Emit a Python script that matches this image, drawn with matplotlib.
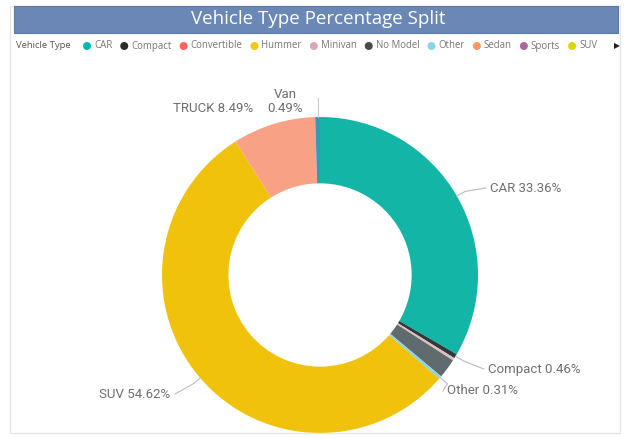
import matplotlib
matplotlib.use("Agg")
import matplotlib.pyplot as plt
from matplotlib.patches import Rectangle
import numpy as np

# ---- data ----
slice_names = ["CAR", "Compact", "Minivan", "No Model", "Other", "SUV", "TRUCK", "Van"]
slice_values = [33.36, 0.46, 0.27, 2.00, 0.31, 54.62, 8.49, 0.49]
slice_colors = ["#12B5A6", "#2F3A3C", "#DFBFBF", "#5F6B6D", "#8AD4EB", "#F0C20C", "#F9A185", "#3599B8"]
labeled = {"CAR": "CAR 33.36%", "Compact": "Compact 0.46%", "Other": "Other 0.31%",
           "SUV": "SUV 54.62%", "TRUCK": "TRUCK 8.49%", "Van": "Van\n0.49%"}

legend_names = ["CAR", "Compact", "Convertible", "Hummer", "Minivan", "No Model",
                "Other", "Sedan", "Sports", "SUV"]
legend_colors = ["#01B8AA", "#2B2B2B", "#FD625E", "#F2C80F", "#D9A8B8", "#4A4A4A",
                 "#8AD4EB", "#FE9666", "#A66999", "#D9D30B"]

title = "Vehicle Type Percentage Split"
legend_title = "Vehicle Type"

W, H = 630, 438
fig = plt.figure(figsize=(W / 100, H / 100), dpi=100)
fig.patch.set_facecolor("white")

def fx(px):
    return px / W

def fy(py):
    return 1 - py / H

# frame + title bar
fig.patches.append(Rectangle((fx(10), fy(433)), fx(610), 427 / H, transform=fig.transFigure,
                             facecolor="none", edgecolor="#E6E6E6", lw=1))
fig.patches.append(Rectangle((fx(14), fy(33)), fx(604), 27 / H, transform=fig.transFigure,
                             facecolor="#6A87B5", edgecolor="#5B78A6", lw=0.8))
fig.text(fx(318), fy(19.5), title, color="white", fontsize=13.5, ha="center", va="center",
         family="Open Sans")

# legend row
ly = fy(46)
fig.text(fx(16), ly, legend_title, fontsize=6.8, color="#555555", va="center", ha="left",
         family="Open Sans")
renderer = fig.canvas.get_renderer()
xpos = 87
for name, col in zip(legend_names, legend_colors):
    fig.patches.append(matplotlib.patches.Ellipse((fx(xpos), ly), fx(8), 8 / H,
                                                  transform=fig.transFigure, facecolor=col,
                                                  edgecolor="none"))
    t = fig.text(fx(xpos + 7), ly, name, fontsize=6.9, color="#777777", va="center", ha="left",
                 family="Open Sans")
    w = t.get_window_extent(renderer=renderer).width
    xpos = xpos + 7 + w + 12
fig.text(fx(617), ly, "\u25B6", fontsize=5.5, color="#222222", va="center", ha="center")

# donut
cx, cy, R = 320, 275, 158
ax = fig.add_axes([fx(cx - R), fy(cy + R), 2 * R / W, 2 * R / H])
wedges, _ = ax.pie(slice_values, colors=slice_colors, startangle=90, counterclock=False,
                   radius=1.0, wedgeprops=dict(width=0.42, edgecolor="none"))
ax.set_xlim(-1, 1)
ax.set_ylim(-1, 1)
ax.set_aspect("equal")
ax.axis("off")

label_pos = {
    "CAR": (490, 188, "left", (486, 188)),
    "Compact": (488, 369, "left", (484, 369)),
    "Other": (447, 391, "left", (443, 391)),
    "SUV": (170, 394, "right", (175, 394)),
    "TRUCK": (253, 108, "right", None),
    "Van": (285, 102, "center", None),
}
lab_kw = dict(fontsize=9.5, color="#6E6E6E", family="Roboto", va="center")
for wdg, name in zip(wedges, slice_names):
    if name not in labeled:
        continue
    tx, ty, ha, lend = label_pos[name]
    mid = np.deg2rad((wdg.theta1 + wdg.theta2) / 2)
    px0 = cx + R * np.cos(mid) * 1.0
    py0 = cy - R * np.sin(mid) * 1.0
    fig.text(fx(tx), fy(ty), labeled[name], ha=ha, linespacing=1.1, **lab_kw)
    if lend is not None:
        px1 = cx + R * 1.06 * np.cos(mid)
        py1 = cy - R * 1.06 * np.sin(mid)
        fig.add_artist(plt.Line2D([fx(px0), fx(px1), fx(lend[0])],
                                  [fy(py0), fy(py1), fy(lend[1])],
                                  transform=fig.transFigure, color="#BBBBBB", lw=0.8))
    if name == "Van":
        fig.add_artist(plt.Line2D([fx(px0), fx(px0)], [fy(py0), fy(98)],
                                  transform=fig.transFigure, color="#CCCCCC", lw=0.8))

fig.savefig("out.png", dpi=100)
